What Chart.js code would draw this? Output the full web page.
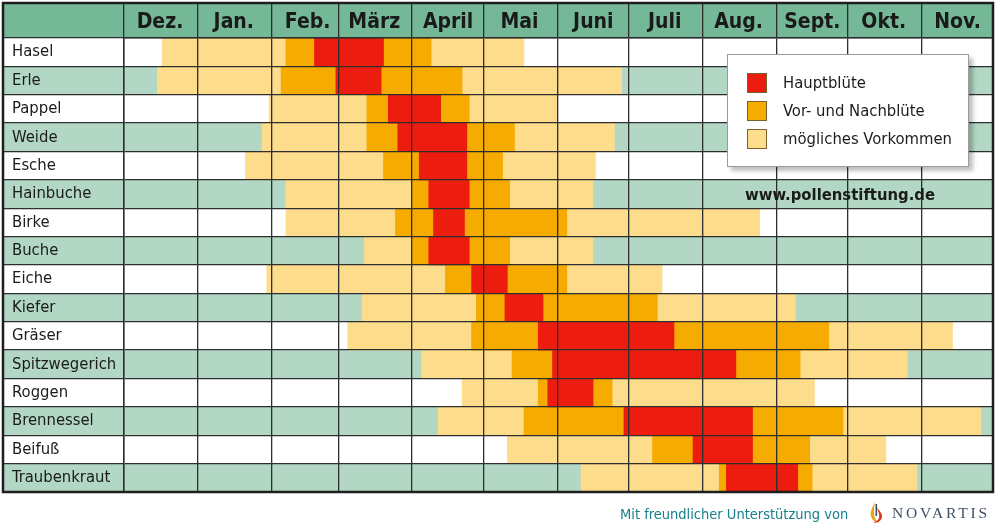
<!DOCTYPE html>
<html lang="de">
<head>
  <meta charset="UTF-8" />
  <title>Pollenflugkalender</title>
  <script src="https://cdn.jsdelivr.net/npm/chart.js"></script>
  <style>
    body {
      margin: 0;
      background: #fff;
      font-family: 'DejaVu Sans Condensed', 'Liberation Sans Narrow', sans-serif;
    }
    #wrap {
      position: relative;
      width: 1000px;
      height: 529px;
    }
    #legendBox {
      position: absolute;
      left: 727px;
      top: 54px;
      width: 240px;
      height: 111px;
      background: #fff;
      border: 1px solid #9a9a9a;
      box-shadow: 4px 4px 4px rgba(0,0,0,0.25);
    }
    .item {
      position: absolute;
      left: 19px;
      height: 20px;
      font-size: 16.5px;
      color: #1c1c1c;
      line-height: 20px;
      white-space: nowrap;
    }
    .item span.sw {
      display: inline-block;
      width: 18px;
      height: 18px;
      border: 1px solid #7a6230;
      vertical-align: top;
      margin-right: 16px;
    }
    #url {
      position: absolute;
      left: 745px;
      top: 185px;
      font-size: 16.5px;
      font-weight: bold;
      color: #1a1a1a;
    }
    #footer {
      position: absolute;
      left: 620px;
      top: 506px;
      font-size: 14.5px;
      color: #16808a;
      white-space: nowrap;
    }
    #novartis {
      position: absolute;
      left: 866px;
      top: 500px;
      white-space: nowrap;
    }
    #novartis b {
      font-family: 'Liberation Serif', serif;
      font-weight: normal;
      font-size: 15.5px;
      letter-spacing: 2.8px;
      color: #3d4e66;
      vertical-align: middle;
    }
  </style>
</head>
<body>
  <div id="wrap">
    <canvas id="pollen" width="1000" height="529"></canvas>
    <div id="legendBox"></div>
    <div id="url">www.pollenstiftung.de</div>
    <div id="footer">Mit freundlicher Unterstützung von</div>
    <div id="novartis">
      <svg width="20" height="26" viewBox="0 0 20 26" style="vertical-align:middle;margin-right:6px">
        <path d="M9 2 C6 8 4 12 5 16 C6 20 9 22 12 22 C8 19 7 14 9 2 Z" fill="#e8a317"/>
        <path d="M11 8 C12 12 14 14 13 18 C12 21 9 22 7 22 C11 24 16 21 16 16 C16 13 13 10 11 8 Z" fill="#d9381e"/>
        <rect x="9.5" y="4" width="1.6" height="12" fill="#3d4e66"/>
      </svg><b>NOVARTIS</b>
    </div>
  </div>

  <script>
    // Tage ab 1. Dezember (Dez = 0 ... Nov-Ende = 365)
    const months = ["Dez.", "Jan.", "Feb.", "März", "April", "Mai", "Juni", "Juli", "Aug.", "Sept.", "Okt.", "Nov."];
    const monthStarts = [0, 31, 62, 90, 121, 151, 182, 212, 243, 274, 304, 335, 365];

    const plants = ["Hasel", "Erle", "Pappel", "Weide", "Esche", "Hainbuche", "Birke", "Buche",
      "Eiche", "Kiefer", "Gräser", "Spitzwegerich", "Roggen", "Brennessel", "Beifuß", "Traubenkraut"];

    // Hauptblüte
    const hauptbluete = [[80, 109], [89, 108], [111, 133], [115, 144], [124, 144], [128, 145], [130, 143], [128, 145],
      [146, 161], [160, 176], [174, 231], [180, 257], [178, 197], [210, 264], [239, 264], [253, 283]];

    // Vor- und Nachblüte
    const vorNachbluete = [[68, 129], [66, 142], [102, 145], [102, 164], [109, 159], [121, 162], [114, 186], [121, 162],
      [135, 186], [148, 224], [146, 296], [163, 284], [174, 205], [168, 302], [222, 288], [250, 289]];

    // mögliches Vorkommen
    const moeglich = [[16, 168], [14, 209], [61, 182], [58, 206], [51, 198], [68, 197], [68, 267], [101, 197],
      [60, 226], [100, 282], [94, 348], [125, 329], [142, 290], [132, 360], [161, 320], [192, 333]];

    const FONT = "'DejaVu Sans Condensed', 'Liberation Sans Narrow', sans-serif";
    const LINE = "#2e2e2e";

    // Zeilenhintergrund, Kopfzeile und Rahmen
    const tableBg = {
      id: "tableBg",
      beforeDraw(chart) {
        const { ctx, chartArea, scales } = chart;
        const y = scales.y;
        const band = (y.bottom - y.top) / plants.length;
        ctx.save();
        ctx.fillStyle = "#74b897";
        ctx.fillRect(3, 3, chartArea.right - 3, chartArea.top - 3);
        plants.forEach((p, i) => {
          const c = y.getPixelForValue(i);
          ctx.fillStyle = i % 2 ? "#b2d7c4" : "#ffffff";
          ctx.fillRect(3, c - band / 2, chartArea.right - 3, band);
        });
        ctx.restore();
      },
      afterDraw(chart) {
        const { ctx, chartArea } = chart;
        ctx.save();
        ctx.strokeStyle = "#1e1e1e";
        ctx.lineWidth = 2.5;
        ctx.strokeRect(3, 3, chartArea.right - 3, chartArea.bottom - 3);
        ctx.restore();
      }
    };

    const chart = new Chart(document.getElementById("pollen"), {
      type: "bar",
      data: {
        labels: plants,
        datasets: [
          { label: "Hauptblüte", data: hauptbluete, backgroundColor: "#ec1c0e" },
          { label: "Vor- und Nachblüte", data: vorNachbluete, backgroundColor: "#f5ab00" },
          { label: "mögliches Vorkommen", data: moeglich, backgroundColor: "#fddc8c" }
        ]
      },
      options: {
        indexAxis: "y",
        responsive: false,
        animation: false,
        grouped: false,
        barPercentage: 1,
        categoryPercentage: 1,
        borderWidth: 0,
        layout: { padding: { left: 12, right: 7, top: 3, bottom: 37 } },
        plugins: {
          legend: { display: false },
          tooltip: { enabled: false }
        },
        scales: {
          x: {
            type: "linear",
            position: "top",
            min: 0,
            max: 365,
            afterBuildTicks: (scale) => {
              scale.ticks = monthStarts.map(v => ({ value: v }));
            },
            afterFit: (scale) => { scale.height = 35; },
            grid: { color: LINE, lineWidth: 1.3, tickLength: 35, tickColor: LINE, z: 1 },
            border: { color: LINE, width: 1.5, z: 1 },
            ticks: {
              z: 1,
              autoSkip: false,
              maxRotation: 0,
              labelOffset: 36,
              padding: -30,
              color: "#1a1a1a",
              font: { family: FONT, size: 21, weight: "bold", lineHeight: 1 },
              callback: (v, i) => months[i] || ""
            }
          },
          y: {
            afterFit: (scale) => { scale.width = 112; },
            grid: { color: LINE, lineWidth: 1.3, tickLength: 121, tickColor: LINE, z: 1 },
            border: { color: LINE, width: 1.5, z: 1 },
            ticks: {
              z: 1,
              crossAlign: "far",
              color: "#1a1a1a",
              font: { family: FONT, size: 16.5 }
            }
          }
        }
      },
      plugins: [tableBg]
    });

    // Legende
    const box = document.getElementById("legendBox");
    chart.data.datasets.forEach((ds, i) => {
      const row = document.createElement("div");
      row.className = "item";
      row.style.top = (18 + i * 28) + "px";
      row.innerHTML = '<span class="sw" style="background:' + ds.backgroundColor + '"></span>' + ds.label;
      box.appendChild(row);
    });
  </script>
</body>
</html>
